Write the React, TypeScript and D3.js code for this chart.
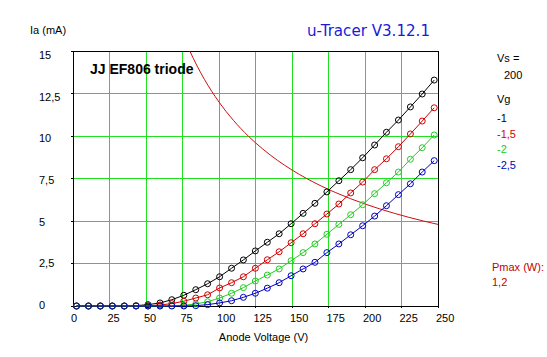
import React from "react";
import * as d3 from "d3";

const voltages = [2.4, 10.6, 18.7, 26.9, 35.1, 43.2, 51.4, 59.6, 67.7, 75.9, 84.1, 92.2, 100.4, 108.6, 116.7, 124.9, 133.1, 141.2, 149.4, 157.6, 165.7, 173.9, 182.1, 190.2, 198.4, 206.6, 214.7, 222.9, 231.1, 239.2, 247.4];
const iaVg1 = [0, 0, 0, 0, 0, 0.02, 0.08, 0.18, 0.37, 0.63, 0.96, 1.31, 1.72, 2.22, 2.71, 3.24, 3.75, 4.25, 4.84, 5.45, 6.04, 6.71, 7.37, 8.02, 8.72, 9.47, 10.22, 10.94, 11.71, 12.47, 13.29];
const iaVg15 = [0, 0, 0, 0, 0, 0, 0.01, 0.06, 0.14, 0.28, 0.47, 0.66, 1.06, 1.37, 1.72, 2.22, 2.72, 3.19, 3.72, 4.25, 4.84, 5.41, 6.0, 6.65, 7.29, 8.02, 8.66, 9.37, 10.12, 10.88, 11.66];
const iaVg2 = [0, 0, 0, 0, 0, 0, 0, 0, 0.01, 0.04, 0.12, 0.25, 0.47, 0.75, 1.08, 1.47, 1.82, 2.18, 2.66, 3.14, 3.65, 4.22, 4.8, 5.37, 5.96, 6.61, 7.25, 7.88, 8.63, 9.31, 10.06];
const iaVg25 = [0, 0, 0, 0, 0, 0, 0, 0, 0, 0, 0.02, 0.08, 0.18, 0.31, 0.51, 0.75, 1.05, 1.37, 1.78, 2.18, 2.57, 3.14, 3.65, 4.19, 4.72, 5.29, 5.9, 6.55, 7.19, 7.88, 8.55];

const seriesLabels = ["-1", "-1,5", "-2", "-2,5"];
const seriesColors = ["#000000", "#d00000", "#22cc22", "#0000c0"];
const seriesData = [iaVg1, iaVg15, iaVg2, iaVg25];

const xTicks = [0, 25, 50, 75, 100, 125, 150, 175, 200, 225, 250];
const yTicks = [0, 2.5, 5, 7.5, 10, 12.5, 15];
const yTickLabels = ["0", "2,5", "5", "7,5", "10", "12,5", "15"];

const pmaxWatts = 1.2;
const pmaxVoltages = [80, 85, 90, 95, 100, 110, 120, 130, 140, 150, 160, 170, 180, 190, 200, 210, 220, 230, 240, 250];

const vsValue = "200";
const titleText = "u-Tracer V3.12.1";
const tubeName = "JJ EF806 triode";

export default function App() {
  const W = 547, H = 357;
  const x = d3.scaleLinear().domain([0, 250]).range([73, 438]);
  const y = d3.scaleLinear().domain([0, 15]).range([306, 51]);
  const font = "'Liberation Sans', Arial, sans-serif";
  const grid = "#22e022";

  const line = d3.line<[number, number]>().x(d => x(d[0])).y(d => y(d[1]));
  const pmaxPts: [number, number][] = pmaxVoltages.map(v => [v, Math.min(15, (pmaxWatts * 1000) / v)]);
  const pmaxLine = d3.line<[number, number]>().x(d => x(d[0])).y(d => y(d[1])).curve(d3.curveMonotoneX);

  return (
    <svg width={W} height={H} style={{ position: "absolute", left: 0, top: 0, background: "#fff" }} fontFamily={font}>
      <rect x={0} y={0} width={W} height={H} fill="#fff" />
      {xTicks.slice(1, -1).map(t => (
        <line key={"gx" + t} x1={x(t)} x2={x(t)} y1={y(15)} y2={y(0)} stroke={grid} strokeWidth={1} shapeRendering="crispEdges" />
      ))}
      {yTicks.slice(1, -1).map(t => (
        <line key={"gy" + t} x1={x(0)} x2={x(250)} y1={y(t)} y2={y(t)} stroke={grid} strokeWidth={1} shapeRendering="crispEdges" />
      ))}
      <rect x={x(0)} y={y(15)} width={x(250) - x(0)} height={y(0) - y(15)} fill="none" stroke="#000" strokeWidth={1} shapeRendering="crispEdges" />
      {yTicks.map(t => (
        <line key={"ty" + t} x1={x(0) - 2} x2={x(0)} y1={y(t)} y2={y(t)} stroke="#000" shapeRendering="crispEdges" />
      ))}
      {xTicks.map(t => (
        <line key={"tx" + t} x1={x(t)} x2={x(t)} y1={y(0)} y2={y(0) + 2} stroke="#000" shapeRendering="crispEdges" />
      ))}
      {yTicks.map((t, i) => (
        <text key={"ly" + t} x={39} y={y(t) + 3 + t / 3} fontSize={11} fill="#000">{yTickLabels[i]}</text>
      ))}
      {xTicks.map(t => (
        <text key={"lx" + t} x={x(t) - 2} y={322} fontSize={11} fill="#000">{String(t)}</text>
      ))}
      <text x={30} y={34} fontSize={11} fill="#000">Ia (mA)</text>
      <text x={263.5} y={341} fontSize={11} fill="#000" textAnchor="middle">Anode Voltage (V)</text>

      <path d={pmaxLine(pmaxPts) || ""} fill="none" stroke="#cc1010" strokeWidth={1} />

      {seriesData.map((s, si) => {
        const pts: [number, number][] = s.map((v, i) => [voltages[i], v]);
        return (
          <g key={"s" + si}>
            <path d={line(pts) || ""} fill="none" stroke={seriesColors[si]} strokeWidth={1} />
            {pts.map((p, i) => (
              <circle key={i} cx={x(p[0])} cy={y(p[1])} r={3} fill="none" stroke={seriesColors[si]} strokeWidth={1} />
            ))}
          </g>
        );
      })}

      <text x={307} y={36} fontSize={15} fill="#1a1ad8" fontFamily="'DejaVu Sans', sans-serif" textLength={123} lengthAdjust="spacingAndGlyphs">{titleText}</text>
      <text x={90} y={74} fontSize={14} fontWeight="bold" fill="#000">{tubeName}</text>

      <text x={497} y={62} fontSize={11} fill="#000">Vs =</text>
      <text x={504} y={79} fontSize={11} fill="#000">{vsValue}</text>
      <text x={497} y={103} fontSize={11} fill="#000">Vg</text>
      {seriesLabels.map((l, i) => (
        <text key={"lg" + i} x={497} y={122 + i * 15.7} fontSize={11} fill={seriesColors[i]}>{l}</text>
      ))}
      <text x={492} y={271} fontSize={11} fill="#c00000">Pmax (W):</text>
      <text x={492} y={286} fontSize={11} fill="#c00000">{"1,2"}</text>
    </svg>
  );
}
